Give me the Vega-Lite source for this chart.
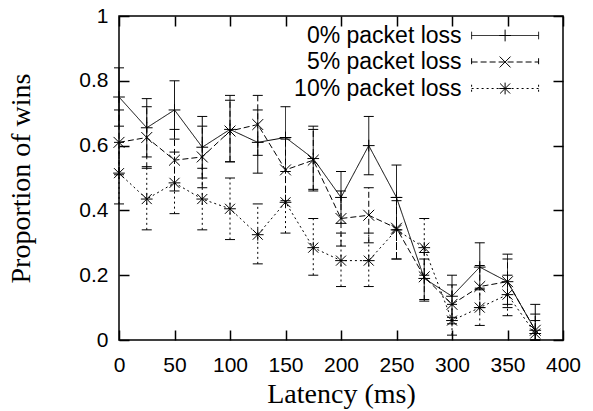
{
  "$schema": "https://vega.github.io/schema/vega-lite/v6.json",
  "width": 444,
  "height": 324,
  "autosize": {"type": "none"},
  "padding": {"left": 119, "top": 16, "right": 30, "bottom": 71},
  "background": "white",
  "config": {
    "view": {"stroke": "black", "strokeWidth": 1.5},
    "font": "Liberation Sans",
    "axis": {
      "domain": false,
      "grid": false,
      "ticks": true,
      "tickColor": "black",
      "tickWidth": 1.5,
      "tickSize": -10,
      "labelFlush": false,
      "labelFont": "Liberation Sans",
      "labelFontSize": 21,
      "labelColor": "black",
      "titleFont": "Liberation Serif",
      "titleFontSize": 28,
      "titleFontWeight": "normal",
      "titleColor": "black"
    },
    "legend": {
      "padding": 0,
      "labelFont": "Liberation Sans",
      "labelFontSize": 23,
      "labelColor": "black",
      "labelLimit": 0
    }
  },
  "data": {
    "values": [
      {"latency": 0, "series": "0% packet loss", "p": 0.75, "lo": 0.66, "hi": 0.84},
      {"latency": 25, "series": "0% packet loss", "p": 0.655, "lo": 0.565, "hi": 0.745},
      {"latency": 50, "series": "0% packet loss", "p": 0.71, "lo": 0.62, "hi": 0.8},
      {"latency": 75, "series": "0% packet loss", "p": 0.595, "lo": 0.5, "hi": 0.69},
      {"latency": 100, "series": "0% packet loss", "p": 0.65, "lo": 0.55, "hi": 0.755},
      {"latency": 125, "series": "0% packet loss", "p": 0.61, "lo": 0.515, "hi": 0.71},
      {"latency": 150, "series": "0% packet loss", "p": 0.625, "lo": 0.52, "hi": 0.72},
      {"latency": 175, "series": "0% packet loss", "p": 0.56, "lo": 0.465, "hi": 0.66},
      {"latency": 200, "series": "0% packet loss", "p": 0.44, "lo": 0.36, "hi": 0.52},
      {"latency": 225, "series": "0% packet loss", "p": 0.6, "lo": 0.51, "hi": 0.69},
      {"latency": 250, "series": "0% packet loss", "p": 0.44, "lo": 0.34, "hi": 0.54},
      {"latency": 275, "series": "0% packet loss", "p": 0.19, "lo": 0.125, "hi": 0.25},
      {"latency": 300, "series": "0% packet loss", "p": 0.135, "lo": 0.07, "hi": 0.2},
      {"latency": 325, "series": "0% packet loss", "p": 0.225, "lo": 0.155, "hi": 0.3},
      {"latency": 350, "series": "0% packet loss", "p": 0.18, "lo": 0.1, "hi": 0.265},
      {"latency": 375, "series": "0% packet loss", "p": 0.03, "lo": 0.0, "hi": 0.11},
      {"latency": 0, "series": "5% packet loss", "p": 0.61, "lo": 0.51, "hi": 0.71},
      {"latency": 25, "series": "5% packet loss", "p": 0.625, "lo": 0.53, "hi": 0.72},
      {"latency": 50, "series": "5% packet loss", "p": 0.555, "lo": 0.46, "hi": 0.65},
      {"latency": 75, "series": "5% packet loss", "p": 0.565, "lo": 0.47, "hi": 0.66},
      {"latency": 100, "series": "5% packet loss", "p": 0.645, "lo": 0.55, "hi": 0.74},
      {"latency": 125, "series": "5% packet loss", "p": 0.665, "lo": 0.57, "hi": 0.755},
      {"latency": 150, "series": "5% packet loss", "p": 0.525, "lo": 0.43, "hi": 0.62},
      {"latency": 175, "series": "5% packet loss", "p": 0.555, "lo": 0.46, "hi": 0.65},
      {"latency": 200, "series": "5% packet loss", "p": 0.375, "lo": 0.29, "hi": 0.46},
      {"latency": 225, "series": "5% packet loss", "p": 0.385, "lo": 0.3, "hi": 0.47},
      {"latency": 250, "series": "5% packet loss", "p": 0.345, "lo": 0.25, "hi": 0.44},
      {"latency": 275, "series": "5% packet loss", "p": 0.195, "lo": 0.12, "hi": 0.27},
      {"latency": 300, "series": "5% packet loss", "p": 0.11, "lo": 0.05, "hi": 0.17},
      {"latency": 325, "series": "5% packet loss", "p": 0.165, "lo": 0.1, "hi": 0.23},
      {"latency": 350, "series": "5% packet loss", "p": 0.18, "lo": 0.11, "hi": 0.25},
      {"latency": 375, "series": "5% packet loss", "p": 0.03, "lo": 0.0, "hi": 0.08},
      {"latency": 0, "series": "10% packet loss", "p": 0.515, "lo": 0.42, "hi": 0.61},
      {"latency": 25, "series": "10% packet loss", "p": 0.435, "lo": 0.34, "hi": 0.535},
      {"latency": 50, "series": "10% packet loss", "p": 0.485, "lo": 0.39, "hi": 0.58},
      {"latency": 75, "series": "10% packet loss", "p": 0.435, "lo": 0.34, "hi": 0.53},
      {"latency": 100, "series": "10% packet loss", "p": 0.405, "lo": 0.31, "hi": 0.5},
      {"latency": 125, "series": "10% packet loss", "p": 0.325, "lo": 0.235, "hi": 0.42},
      {"latency": 150, "series": "10% packet loss", "p": 0.425, "lo": 0.33, "hi": 0.52},
      {"latency": 175, "series": "10% packet loss", "p": 0.285, "lo": 0.2, "hi": 0.375},
      {"latency": 200, "series": "10% packet loss", "p": 0.245, "lo": 0.165, "hi": 0.33},
      {"latency": 225, "series": "10% packet loss", "p": 0.245, "lo": 0.165, "hi": 0.33},
      {"latency": 250, "series": "10% packet loss", "p": 0.34, "lo": 0.25, "hi": 0.43},
      {"latency": 275, "series": "10% packet loss", "p": 0.285, "lo": 0.2, "hi": 0.375},
      {"latency": 300, "series": "10% packet loss", "p": 0.06, "lo": 0.015, "hi": 0.11},
      {"latency": 325, "series": "10% packet loss", "p": 0.1, "lo": 0.045, "hi": 0.16},
      {"latency": 350, "series": "10% packet loss", "p": 0.14, "lo": 0.075, "hi": 0.2},
      {"latency": 375, "series": "10% packet loss", "p": 0.02, "lo": 0.0, "hi": 0.06}
    ]
  },
  "resolve": {"axis": {"x": "independent", "y": "independent"}},
  "layer": [
    {
      "mark": {"type": "rule", "color": "black", "strokeWidth": 1},
      "encoding": {
        "x": {"field": "latency", "type": "quantitative",
              "scale": {"domain": [0, 400], "nice": false},
              "axis": {"orient": "bottom", "values": [0, 50, 100, 150, 200, 250, 300, 350, 400], "labelPadding": 24, "title": "Latency (ms)", "titlePadding": 5}},
        "y": {"field": "lo", "type": "quantitative",
              "scale": {"domain": [0, 1], "nice": false},
              "axis": {"orient": "left", "values": [0, 0.2, 0.4, 0.6, 0.8, 1], "format": "~g", "labelPadding": 21, "title": "Proportion of wins", "titlePadding": 43}},
        "y2": {"field": "hi"},
        "strokeDash": {"field": "series", "type": "nominal",
                       "scale": {"domain": ["0% packet loss", "5% packet loss", "10% packet loss"], "range": [[1, 0], [6, 3], [2, 3]]}}
      }
    },
    {
      "mark": {"type": "tick", "orient": "horizontal", "color": "black", "size": 10, "thickness": 1, "opacity": 1},
      "encoding": {
        "x": {"field": "latency", "type": "quantitative",
              "axis": {"orient": "top", "values": [0, 50, 100, 150, 200, 250, 300, 350, 400], "labels": false, "title": null}},
        "y": {"field": "lo", "type": "quantitative",
              "axis": {"orient": "right", "values": [0, 0.2, 0.4, 0.6, 0.8, 1], "labels": false, "title": null}}
      }
    },
    {
      "mark": {"type": "tick", "orient": "horizontal", "color": "black", "size": 10, "thickness": 1, "opacity": 1},
      "encoding": {
        "x": {"field": "latency", "type": "quantitative", "axis": null},
        "y": {"field": "hi", "type": "quantitative", "axis": null}
      }
    },
    {
      "mark": {"type": "line", "color": "black", "strokeWidth": 1},
      "encoding": {
        "x": {"field": "latency", "type": "quantitative", "axis": null},
        "y": {"field": "p", "type": "quantitative", "axis": null},
        "strokeDash": {"field": "series", "type": "nominal",
                       "scale": {"domain": ["0% packet loss", "5% packet loss", "10% packet loss"], "range": [[1, 0], [6, 3], [2, 3]]},
                       "legend": {"title": null, "orient": "none", "legendX": 374.6, "legendY": 8,
                                  "symbolType": "M-4,0L4,0M-4,-0.45L-4,0.45M4,-0.45L4,0.45",
                                  "symbolSize": 280.6, "symbolStrokeColor": "black", "symbolStrokeWidth": 1,
                                  "symbolFillColor": "transparent", "labelAlign": "right", "labelOffset": -55,
                                  "rowPadding": 2.5}}
      }
    },
    {
      "mark": {"type": "point", "filled": false, "color": "black", "strokeWidth": 1, "size": 280.6, "opacity": 1},
      "encoding": {
        "x": {"field": "latency", "type": "quantitative", "axis": null},
        "y": {"field": "p", "type": "quantitative", "axis": null},
        "shape": {"field": "series", "type": "nominal",
                  "sort": ["0% packet loss", "5% packet loss", "10% packet loss"],
                  "scale": {"range": ["M-0.7,0L0.7,0M0,-0.7L0,0.7", "M-0.65,-0.65L0.65,0.65M-0.65,0.65L0.65,-0.65", "M-0.7,0L0.7,0M0,-0.7L0,0.7M-0.6,-0.6L0.6,0.6M-0.6,0.6L0.6,-0.6"]},
                  "legend": {"title": null, "orient": "none", "legendX": 374.6, "legendY": 8,
                             "symbolSize": 280.6, "symbolStrokeColor": "black", "symbolStrokeWidth": 1,
                             "symbolFillColor": "transparent", "labelAlign": "right", "labelOffset": -55,
                             "labelColor": "transparent", "rowPadding": 2.5}}
      }
    }
  ]
}
